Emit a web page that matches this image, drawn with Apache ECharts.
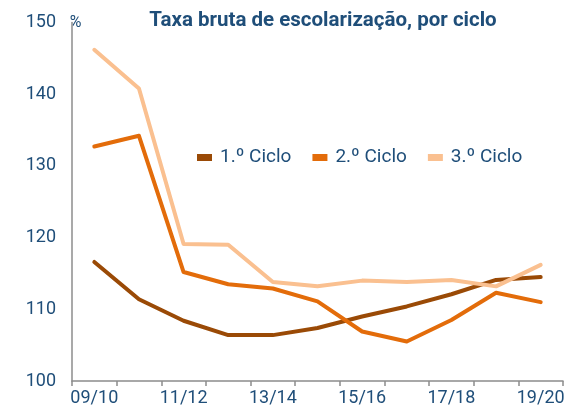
<!DOCTYPE html>
<html>
<head>
<meta charset="utf-8">
<script src="https://cdn.jsdelivr.net/npm/echarts@6/dist/echarts.min.js"></script>
<style>
  html, body { margin: 0; padding: 0; background: #fff; }
  #chart { width: 581px; height: 417px; }
</style>
</head>
<body>
<div id="chart"></div>
<script>
  // anos lectivos
  var categories = ['09/10', '10/11', '11/12', '12/13', '13/14', '14/15', '15/16', '16/17', '17/18', '18/19', '19/20'];

  // taxa bruta de escolarização (%)
  var ciclo1 = [116.6, 111.4, 108.4, 106.4, 106.4, 107.4, 109.0, 110.4, 112.1, 114.1, 114.5];
  var ciclo2 = [132.7, 134.2, 115.2, 113.5, 112.9, 111.1, 106.9, 105.5, 108.5, 112.3, 111.0];
  var ciclo3 = [146.2, 140.8, 119.1, 119.0, 113.8, 113.2, 114.0, 113.8, 114.1, 113.2, 116.2];

  var yTicks = [100, 110, 120, 130, 140, 150];

  var textColor = '#1F4E79';
  var colors = ['#9A4A06', '#E36C0A', '#FAC090'];

  function line(name, data, idx) {
    return {
      type: 'line',
      name: name,
      data: data,
      showSymbol: false,
      symbol: 'none',
      animation: false,
      lineStyle: { width: 4, color: colors[idx], join: 'round', cap: 'round' },
      itemStyle: { color: colors[idx] }
    };
  }

  var chart = echarts.init(document.getElementById('chart'), null, { renderer: 'canvas' });

  chart.setOption({
    backgroundColor: '#fff',
    textStyle: { fontFamily: 'Roboto' },
    title: {
      text: 'Taxa bruta de escolarização, por ciclo',
      left: 318,
      textAlign: 'center',
      top: 5,
      textStyle: { color: textColor, fontSize: 20.5, fontWeight: 'bold', fontFamily: 'Roboto' }
    },
    legend: {
      left: 192,
      top: 143,
      icon: 'rect',
      itemWidth: 15,
      itemHeight: 7,
      itemGap: 21,
      textStyle: { color: textColor, fontSize: 19, fontFamily: 'Roboto', padding: [0, 0, 0, 3] },
      data: ['1.º Ciclo', '2.º Ciclo', '3.º Ciclo']
    },
    grid: { left: 72, right: 18, top: 22.5, bottom: 36, containLabel: false },
    xAxis: {
      type: 'category',
      data: categories,
      boundaryGap: true,
      axisLine: { lineStyle: { color: '#8C8C8C', width: 1.5 } },
      axisTick: { show: true, length: 5, interval: 0, lineStyle: { color: '#8C8C8C', width: 1.5 } },
      axisLabel: { interval: 1, color: textColor, fontSize: 18, margin: 8, fontFamily: 'Roboto' },
      splitLine: { show: false }
    },
    yAxis: {
      type: 'value',
      min: yTicks[0],
      max: yTicks[yTicks.length - 1],
      interval: 10,
      name: '%',
      nameLocation: 'end',
      nameGap: 0,
      nameTextStyle: { color: textColor, fontSize: 16, align: 'center', verticalAlign: 'middle', padding: [0, 0, 0, 7], fontFamily: 'Roboto' },
      axisLine: { show: true, lineStyle: { color: '#8C8C8C', width: 1.5 } },
      axisTick: { show: false },
      axisLabel: { color: textColor, fontSize: 18, margin: 16, fontFamily: 'Roboto' },
      splitLine: { show: false }
    },
    series: [
      line('1.º Ciclo', ciclo1, 0),
      line('2.º Ciclo', ciclo2, 1),
      line('3.º Ciclo', ciclo3, 2)
    ]
  });
</script>
</body>
</html>
